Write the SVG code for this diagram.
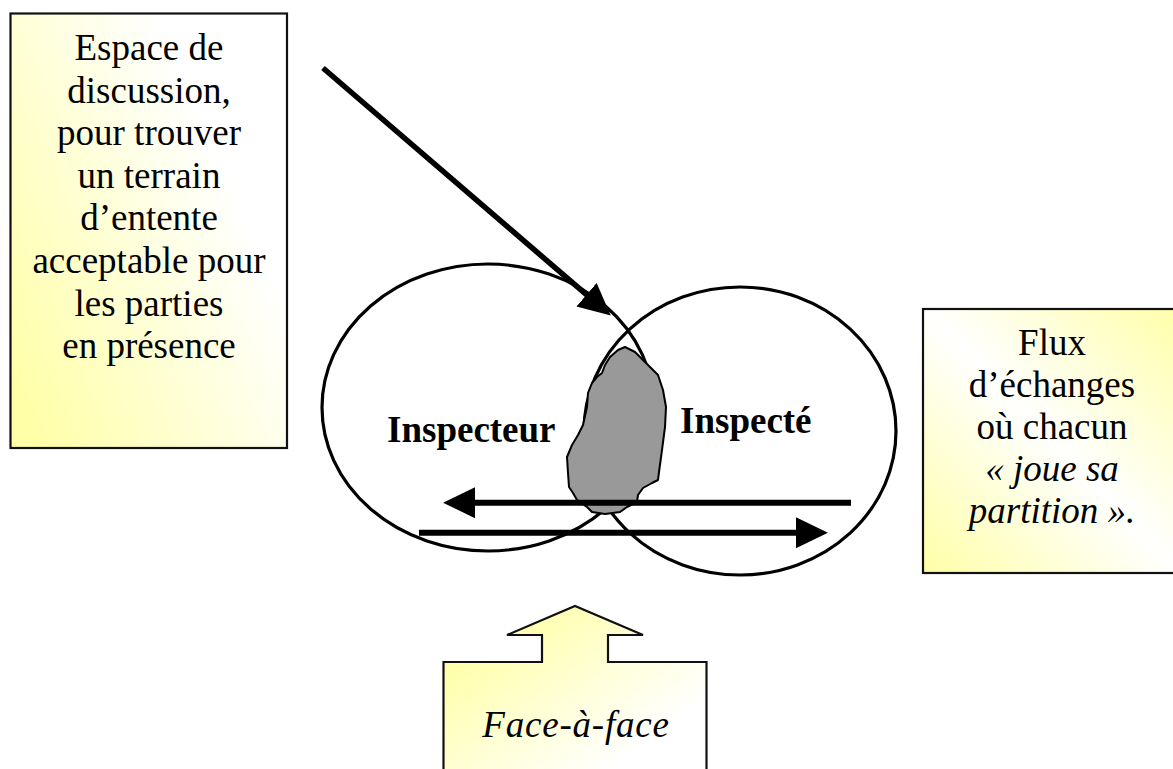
<svg xmlns="http://www.w3.org/2000/svg" width="1173" height="769" viewBox="0 0 1173 769">
  <defs>
    <linearGradient id="gradLeft" x1="0" y1="0.85" x2="1" y2="0.15">
      <stop offset="0" stop-color="#FFFFA8"/>
      <stop offset="0.75" stop-color="#FFFFFF"/>
      <stop offset="1" stop-color="#FFFFFF"/>
    </linearGradient>
    <linearGradient id="gradRight" x1="0" y1="1" x2="1" y2="0">
      <stop offset="0" stop-color="#FFFFA8"/>
      <stop offset="0.5" stop-color="#FFFFFF"/>
      <stop offset="1" stop-color="#FFFFA8"/>
    </linearGradient>
    <linearGradient id="gradBottom" x1="0" y1="0.2" x2="0.9" y2="1">
      <stop offset="0" stop-color="#FFFFA0"/>
      <stop offset="0.8" stop-color="#FFFFFF"/>
    </linearGradient>
    <marker id="head" markerUnits="userSpaceOnUse" markerWidth="32" markerHeight="32"
            viewBox="0 0 31 30" refX="1" refY="15" orient="auto">
      <path d="M0,0 L31,15 L0,30 Z" fill="#000"/>
    </marker>
  </defs>
  <style>
    .box { stroke: #111; stroke-width: 2.2; }
    .lbl { font-family: "Liberation Serif", "Times New Roman", serif; font-size: 37px; fill: #000; text-anchor: middle; }
    .it { font-style: italic; }
    .bold { font-weight: bold; text-anchor: start; }
    .ell { fill: none; stroke: #000; stroke-width: 3.2; }
    .conn { stroke: #000; fill: none; marker-end: url(#head); }
  </style>

  <rect width="1173" height="769" fill="#FFFFFF"/>

  <!-- Left callout: discussion space -->
  <g id="espace">
    <rect class="box" x="10.5" y="13.5" width="276.5" height="434.5" fill="url(#gradLeft)"/>
    <text class="lbl" x="149" y="60">Espace de</text>
    <text class="lbl" x="149" y="102.6">discussion,</text>
    <text class="lbl" x="149" y="145.2">pour trouver</text>
    <text class="lbl" x="149" y="187.8">un terrain</text>
    <text class="lbl" x="149" y="230.4">d’entente</text>
    <text class="lbl" x="149" y="273">acceptable pour</text>
    <text class="lbl" x="149" y="315.6">les parties</text>
    <text class="lbl" x="149" y="358.2">en présence</text>
  </g>

  <!-- Right callout: exchange flows -->
  <g id="flux">
    <rect class="box" x="923" y="309" width="262" height="264" fill="url(#gradRight)"/>
    <text class="lbl" x="1052" y="355">Flux</text>
    <text class="lbl" x="1052" y="397">d’échanges</text>
    <text class="lbl" x="1052" y="439">où chacun</text>
    <text class="lbl it" x="1052" y="481">« joue sa</text>
    <text class="lbl it" x="1052" y="523">partition ».</text>
  </g>

  <!-- Bottom callout with up arrow -->
  <g id="face">
    <path class="box" fill="url(#gradBottom)"
          d="M443.5,780 L443.5,662 L542,662 L542,635 L507,635 L575,606 L643,635 L608,635 L608,662 L706.5,662 L706.5,780 Z"/>
    <text class="lbl it" x="576" y="737" font-size="40" letter-spacing="0.8">Face-à-face</text>
  </g>

  <!-- The two parties -->
  <g id="inspecteur">
    <ellipse class="ell" cx="488" cy="407.5" rx="166" ry="143.5"/>
  </g>
  <g id="inspecte">
    <ellipse class="ell" cx="740" cy="431" rx="156" ry="144"/>
  </g>

  <!-- Common ground between them -->
  <g id="terrain">
    <path fill="#999999" stroke="#000" stroke-width="2" stroke-linejoin="round"
          d="M625,347 L635,352 L648,365 L658,375 L663,390 L666,407 L665,427 L662,450 L659,472 L658,480
             L652,483 L643,488 L638,495 L637,502 L627,507 L620,512 L605,514 L592,512 L587,507 L577,500
             L573,493 L569,487 L568,473 L567,457 L572,445 L578,435 L583,425 L587,407 L588,393 L592,383
             L597,377 L602,373 L605,365 L610,357 L618,350 Z"/>
  </g>

  <g id="labels">
    <text class="lbl bold" x="387" y="442">Inspecteur</text>
    <text class="lbl bold" x="680" y="433">Inspecté</text>
  </g>

  <!-- Connectors -->
  <g id="connectors">
    <line class="conn" x1="323" y1="68" x2="587.3" y2="295.4" stroke-width="5.5"/>
    <line class="conn" x1="851" y1="502.7" x2="474" y2="502.7" stroke-width="6"/>
    <line class="conn" x1="419" y1="532.7" x2="797" y2="532.7" stroke-width="6"/>
  </g>
</svg>
